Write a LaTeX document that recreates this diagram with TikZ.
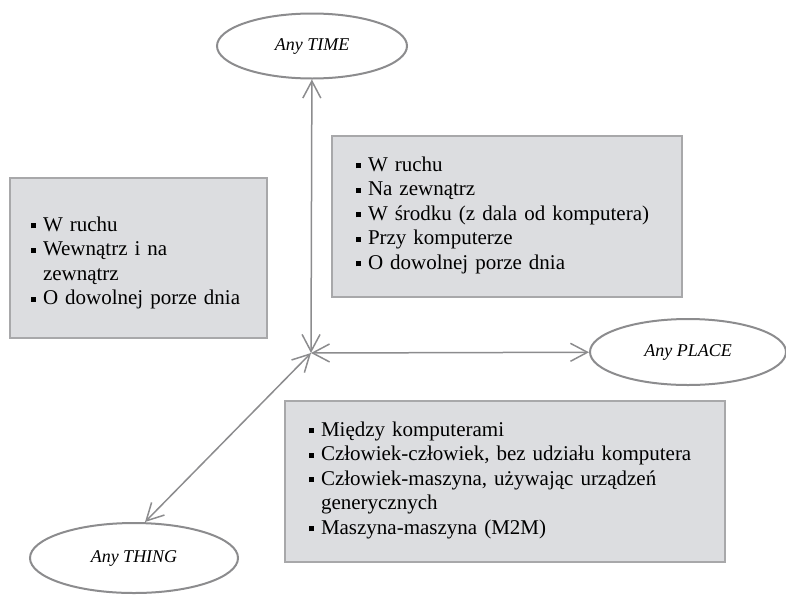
\documentclass[tikz,border=0pt]{standalone}
\usepackage{fontspec}
\setmainfont{Liberation Serif}
\usetikzlibrary{positioning,shapes.geometric,arrows.meta}

\definecolor{boxfill}{RGB}{220,221,224}
\definecolor{boxline}{RGB}{168,168,170}
\definecolor{rimline}{RGB}{140,140,142}

\newcommand{\sqbul}{\rule[3pt]{5pt}{5pt}}
\newcommand{\itm}[1]{\par\hangindent=12pt\hangafter=1\noindent\makebox[12pt][l]{\sqbul}#1\par}
\newcommand{\lift}{\rule[-17pt]{0pt}{17pt}}

\tikzset{
    any/.style={ellipse, draw=rimline, line width=2pt, fill=white, inner sep=0pt,
        font=\fontsize{18}{20}\selectfont\itshape},
    area/.style={rectangle, draw=boxline, line width=2.5pt, fill=boxfill,
        inner xsep=21pt, font=\fontsize{21}{24.5}\selectfont\raggedright},
    link/.style={draw=rimline, line width=1.5pt,
        {Straight Barb[length=17pt,width=18pt]}-{Straight Barb[length=17pt,width=18pt]}}
}

\begin{document}
\begin{tikzpicture}[x=1pt, y=-1pt]
    \useasboundingbox (0,0) rectangle (786,595);

    \coordinate (hub) at (311,353);
    \node[any, minimum width=190pt, minimum height=65pt] (time) at (312,46) {Any TIME};
    \node[any, minimum width=196pt, minimum height=66pt] (place) at (688,352) {Any PLACE};
    \node[any, minimum width=208pt, minimum height=70pt] (thing) at (134,558) {Any THING};

    \node[area, text width=215pt, minimum height=160pt] (move) at (138.5,258) {%
        \itm{W ruchu}
        \itm{Wewnątrz i na\newline zewnątrz}
        \itm{O dowolnej porze dnia}};
    \node[area, inner xsep=24pt, text width=302pt, minimum height=161pt] (where) at (507,216.5) {%
        \itm{W ruchu}
        \itm{Na zewnątrz}
        \itm{W środku (z dala od komputera)}
        \itm{Przy komputerze}
        \itm{O dowolnej porze dnia\lift}};
    \node[area, inner xsep=24pt, text width=392pt, minimum height=161pt] (who) at (505,481.5) {%
        \itm{Między komputerami}
        \itm{Człowiek-człowiek, bez udziału komputera}
        \itm{Człowiek-maszyna, używając urządzeń\newline generycznych}
        \itm{Maszyna-maszyna (M2M)\lift}};

    \draw[link] (hub) -- (time);
    \draw[link] (hub) -- (place);
    \draw[link] (hub) -- ([xshift=11pt]thing.north);
\end{tikzpicture}
\end{document}
